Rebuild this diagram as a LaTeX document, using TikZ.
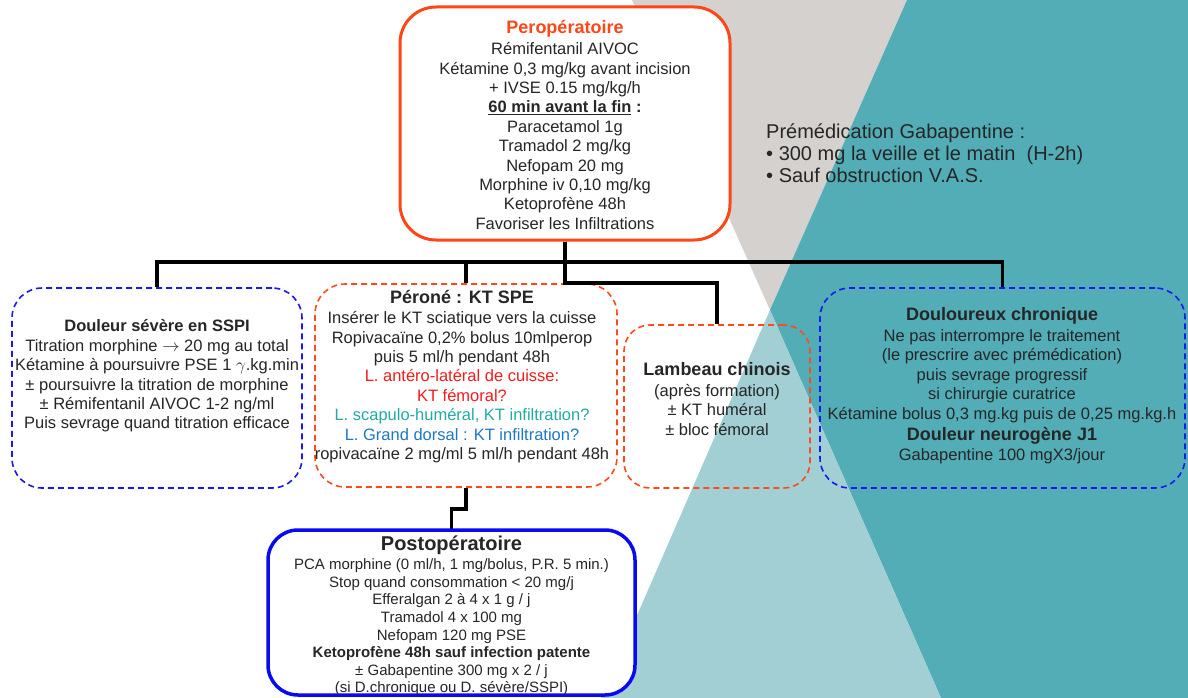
\documentclass[tikz,border=0pt]{standalone}
\usepackage{fontspec}
\setmainfont{Liberation Sans}
\definecolor{bggray}{HTML}{D5D1CE}
\definecolor{bgteal}{HTML}{52ADB6}
\definecolor{bglight}{HTML}{A1CFD4}
\definecolor{orng}{HTML}{FF4616}
\definecolor{dashorng}{HTML}{FF4A1E}
\definecolor{dashblue}{HTML}{1818F0}
\definecolor{solidblue}{HTML}{0A0AF0}
\definecolor{redtxt}{HTML}{F21C1C}
\definecolor{tealtxt}{HTML}{20ACA2}
\definecolor{bluetxt}{HTML}{1E78C6}
\definecolor{darktxt}{HTML}{262626}
\tikzset{
  conn/.style={line width=3.5pt, black},
  dashbox/.style={line width=1.6pt, dash pattern=on 6pt off 4pt, rounded corners=30pt, inner sep=0pt},
  txt/.style={align=center, inner sep=0pt, text=darktxt, font=\fontsize{16.5}{19.4}\selectfont},
}
\newcommand{\ttl}[1]{{\fontsize{18}{19.4}\selectfont\bfseries #1}}
\begin{document}
\begin{tikzpicture}[x=1pt,y=-1pt]
\useasboundingbox (0,0) rectangle (1188,698);
% background
\fill[white] (0,0) rectangle (1188,698);
\fill[bggray] (632,0) -- (907,0) -- (770,310) -- cycle;
\fill[bgteal] (907,0) -- (1188,0) -- (1188,698) -- (941,698) -- (770,310) -- cycle;
\fill[bglight] (770,310) -- (941,698) -- (601,698) -- cycle;

% boxes
\node[draw=orng, fill=white, line width=3pt, rounded corners=36pt, inner sep=0pt,
      minimum width=330pt, minimum height=233pt] (pero) at (565,123.5) {};
\node[dashbox, draw=dashblue, minimum width=290pt, minimum height=200pt] (left) at (157,388) {};
\node[dashbox, draw=dashorng, minimum width=302pt, minimum height=203pt] (perone) at (466,385.5) {};
\node[dashbox, draw=dashorng, rounded corners=26pt, minimum width=186pt, minimum height=163pt] (lamb) at (717,406.5) {};
\node[dashbox, draw=dashblue, minimum width=365pt, minimum height=200pt] (chron) at (1002.5,388) {};

% connectors
\coordinate (j1) at (565,262);
\coordinate (j2) at (565,283);
\coordinate (k) at (466,509);
\draw[conn] (pero.south) -- (j1);
\draw[conn] (left.north) |- (j1) -| (chron.north);
\draw[conn] (j1) -| (perone.north);
\draw[conn] (j1) -- (j2) -| (lamb.north);
\draw[conn] (perone.south) -- (k) -| (451.5,531);

\node[draw=solidblue, fill=white, line width=3.5pt, rounded corners=30pt, inner sep=0pt,
      minimum width=367pt, minimum height=165pt] (post) at (451.5,612.5) {};

% texts
\node[txt] (perotxt) at (565,125) {{\fontsize{18}{19.4}\selectfont\bfseries\color{orng}Peropératoire}\\[1.5pt]
Rémifentanil AIVOC\\
Kétamine 0,3 mg/kg avant incision\\
+ IVSE 0.15 mg/kg/h\\
\textbf{\underline{60 min avant la fin}} \textbf{:}\\
Paracetamol 1g\\
Tramadol 2 mg/kg\\
Nefopam 20 mg\\
Morphine iv 0,10 mg/kg\\
Ketoprofène 48h\\
Favoriser les Infiltrations};

\node[txt] (lefttxt) at (157,376) {\textbf{Douleur sévère en SSPI}\\
Titration morphine $\rightarrow$ 20 mg au total\\
Kétamine à poursuivre PSE 1 $\gamma$.kg.min\\
± poursuivre la titration de morphine\\
± Rémifentanil AIVOC 1-2 ng/ml\\
Puis sevrage quand titration efficace};

\node[txt] (peronetxt) at (462,376.5) {\ttl{Péroné : KT SPE}\\[1pt]
Insérer le KT sciatique vers la cuisse\\
Ropivacaïne 0,2\% bolus 10mlperop\\
puis 5 ml/h pendant 48h\\
\textcolor{redtxt}{L. antéro-latéral de cuisse:}\\
\textcolor{redtxt}{KT fémoral?}\\
\textcolor{tealtxt}{L. scapulo-huméral, KT infiltration?}\\
\textcolor{bluetxt}{L. Grand dorsal : KT infiltration?}\\
ropivacaïne 2 mg/ml 5 ml/h pendant 48h};

\node[txt] (lambtxt) at (717,399) {\ttl{Lambeau chinois}\\[1pt]
(après formation)\\
± KT huméral\\
± bloc fémoral};

\node[txt] (chrontxt) at (1002,386) {\ttl{Douloureux chronique}\\[1.5pt]
Ne pas interrompre le traitement\\
(le prescrire avec prémédication)\\
puis sevrage progressif\\
si chirurgie curatrice\\
Kétamine bolus 0,3 mg.kg puis de 0,25 mg.kg.h\\[1.5pt]
\ttl{Douleur neurogène J1}\\[1.5pt]
Gabapentine 100 mgX3/jour};

\node[txt, font=\fontsize{15}{17.6}\selectfont] (posttxt) at (451.5,616) {{\fontsize{20}{17.6}\selectfont\bfseries Postopératoire}\\[1.5pt]
PCA morphine (0 ml/h, 1 mg/bolus, P.R. 5 min.)\\
Stop quand consommation < 20 mg/j\\
Efferalgan 2 à 4 x 1 g / j\\
Tramadol 4 x 100 mg\\
Nefopam 120 mg PSE\\
\textbf{Ketoprofène 48h sauf infection patente}\\
± Gabapentine 300 mg x 2 / j\\
(si D.chronique ou D. sévère/SSPI)};

\node[anchor=west, align=left, inner sep=0pt, text=darktxt, font=\fontsize{20}{22}\selectfont] (prem) at (766,153)
{Prémédication Gabapentine :\\
• 300 mg la veille et le matin~~(H-2h)\\
• Sauf obstruction V.A.S.};
\end{tikzpicture}
\end{document}
